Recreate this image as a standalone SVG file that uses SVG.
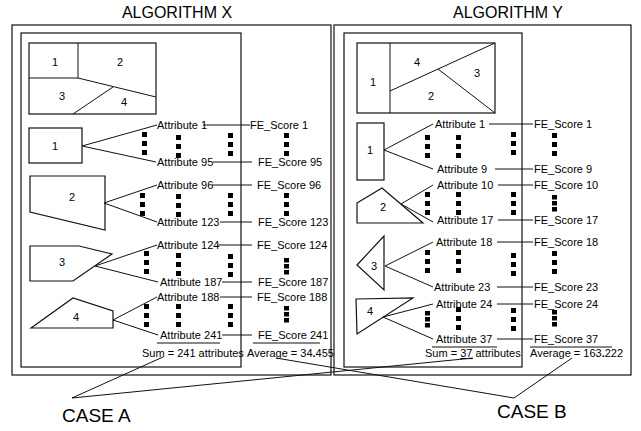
<svg xmlns="http://www.w3.org/2000/svg" xmlns:xlink="http://www.w3.org/1999/xlink" width="641" height="431" viewBox="0 0 641 431">
<style>
.f{fill:none;stroke:#111;stroke-width:1.2}
.s{fill:#fff;stroke:#111;stroke-width:1.2}
.l{fill:none;stroke:#111;stroke-width:1}
.t{font-family:"Liberation Sans",Arial,sans-serif;font-size:11px;fill:#000}
.n{font-family:"Liberation Sans",Arial,sans-serif;font-size:11px;fill:#000;text-anchor:middle}
.h{font-family:"Liberation Sans",Arial,sans-serif;font-size:16px;fill:#000;text-anchor:middle}
.c{font-family:"Liberation Sans",Arial,sans-serif;font-size:19px;fill:#000}
.d{fill:#000}
</style>
<defs>
<g id="v3"><rect class="d" x="0" y="0" width="5" height="5"/><rect class="d" x="0" y="9" width="5" height="5"/><rect class="d" x="0" y="18" width="5" height="5"/></g>
<g id="v3c"><rect class="d" x="0" y="0" width="5" height="4.5"/><rect class="d" x="0" y="6" width="5" height="4.5"/><rect class="d" x="0" y="12" width="5" height="4.5"/></g>
</defs>
<rect width="641" height="431" fill="#fff"/>

<g id="titles">
<text class="h" x="177" y="18">ALGORITHM X</text>
<text class="h" x="508" y="18">ALGORITHM Y</text>
</g>

<g id="frames">
<rect class="f" x="12" y="25" width="319" height="350"/>
<rect class="f" x="21" y="33" width="220" height="334"/>
<rect class="f" x="334" y="25" width="297" height="350"/>
<rect class="f" x="344" y="33" width="178" height="334"/>
</g>

<g id="partitionX">
<rect class="s" x="29" y="43" width="127" height="71"/>
<polyline class="l" points="29,78 78,78 78,43"/>
<line class="l" x1="78" y1="78" x2="156" y2="97"/>
<line class="l" x1="113" y1="87" x2="73" y2="114"/>
<text class="n" x="55" y="66">1</text>
<text class="n" x="120" y="66">2</text>
<text class="n" x="62" y="100">3</text>
<text class="n" x="124" y="106">4</text>
</g>

<g id="partitionY">
<rect class="s" x="357" y="43" width="138" height="70"/>
<line class="l" x1="390" y1="43" x2="390" y2="113"/>
<line class="l" x1="390" y1="91" x2="495" y2="43"/>
<line class="l" x1="438" y1="69" x2="495" y2="113"/>
<text class="n" x="373" y="86">1</text>
<text class="n" x="417" y="66">4</text>
<text class="n" x="477" y="77">3</text>
<text class="n" x="431" y="100">2</text>
</g>

<g id="x-node1"><rect class="s" x="29" y="128" width="53" height="35"/><text class="n" x="55" y="150">1</text></g>
<g id="x-node2"><polygon class="s" points="30,176 105,176 105,230 30,212"/><text class="n" x="72" y="201">2</text></g>
<g id="x-node3"><polygon class="s" points="30,246 79,246 112,254 73,281 30,281"/><text class="n" x="62" y="266">3</text></g>
<g id="x-node4"><polygon class="s" points="31,328 73,298 113,311 113,328"/><text class="n" x="76" y="321">4</text></g>

<g id="y-node1"><rect class="s" x="357" y="123" width="27" height="57"/><text class="n" x="370" y="154">1</text></g>
<g id="y-node2"><polygon class="s" points="357,203 382,188 423,223 357,223"/><text class="n" x="383" y="211">2</text></g>
<g id="y-node3"><polygon class="s" points="357,265 384,236 384,290"/><text class="n" x="374" y="270">3</text></g>
<g id="y-node4"><polygon class="s" points="356,299 413,298 357,334"/><text class="n" x="370" y="315">4</text></g>

<g id="x-labels">
<text class="t" x="157" y="129">Attribute 1</text><text class="t" x="250" y="129">FE_Score 1</text>
<text class="t" x="157" y="166">Attribute 95</text><text class="t" x="258" y="166">FE_Score 95</text>
<text class="t" x="157" y="189">Attribute 96</text><text class="t" x="257" y="189">FE_Score 96</text>
<text class="t" x="157" y="226">Attribute 123</text><text class="t" x="258" y="226">FE_Score 123</text>
<text class="t" x="157" y="249">Attribute 124</text><text class="t" x="257" y="249">FE_Score 124</text>
<text class="t" x="160" y="286">Attribute 187</text><text class="t" x="258" y="286">FE_Score 187</text>
<text class="t" x="157" y="301">Attribute 188</text><text class="t" x="257" y="301">FE_Score 188</text>
<text class="t" x="160" y="339">Attribute 241</text><text class="t" x="258" y="339">FE_Score 241</text>
<text class="t" x="142" y="357">Sum = 241 attributes</text>
<text class="t" x="247" y="357">Average = 34<tspan font-weight="bold">.</tspan>455</text>
</g>

<g id="y-labels">
<text class="t" x="435" y="128">Attribute 1</text><text class="t" x="534" y="128">FE_Score 1</text>
<text class="t" x="437" y="173">Attribute 9</text><text class="t" x="534" y="173">FE_Score 9</text>
<text class="t" x="437" y="189">Attribute 10</text><text class="t" x="534" y="189">FE_Score 10</text>
<text class="t" x="437" y="224">Attribute 17</text><text class="t" x="534" y="224">FE_Score 17</text>
<text class="t" x="436" y="246">Attribute 18</text><text class="t" x="534" y="246">FE_Score 18</text>
<text class="t" x="434" y="291">Attribute 23</text><text class="t" x="534" y="291">FE_Score 23</text>
<text class="t" x="436" y="308">Attribute 24</text><text class="t" x="534" y="308">FE_Score 24</text>
<text class="t" x="436" y="343">Attribute 37</text><text class="t" x="534" y="343">FE_Score 37</text>
<text class="t" x="425" y="357">Sum = <tspan text-decoration="underline">37</tspan> attributes</text>
<text class="t" x="530" y="357">Average = 163<tspan font-weight="bold">.</tspan>222</text>
</g>

<g id="dots">
<use xlink:href="#v3" x="142" y="132"/><use xlink:href="#v3" x="176" y="135"/><use xlink:href="#v3" x="228" y="133"/><use xlink:href="#v3" x="284" y="133"/>
<use xlink:href="#v3" x="140" y="193"/><use xlink:href="#v3" x="176" y="194"/><use xlink:href="#v3" x="228" y="193"/><use xlink:href="#v3" x="284" y="193"/>
<use xlink:href="#v3" x="144" y="251"/><use xlink:href="#v3" x="176" y="253"/><use xlink:href="#v3" x="228" y="254"/><use xlink:href="#v3c" x="284" y="258"/>
<use xlink:href="#v3" x="144" y="304"/><use xlink:href="#v3" x="176" y="304"/><use xlink:href="#v3" x="228" y="304"/><use xlink:href="#v3c" x="284" y="306"/>
<use xlink:href="#v3" x="425" y="135"/><use xlink:href="#v3" x="456" y="135"/><use xlink:href="#v3" x="511" y="132"/><use xlink:href="#v3" x="552" y="133"/>
<use xlink:href="#v3" x="425" y="192"/><use xlink:href="#v3" x="456" y="192"/><use xlink:href="#v3" x="511" y="192"/><use xlink:href="#v3c" x="552" y="195"/>
<use xlink:href="#v3" x="425" y="250"/><use xlink:href="#v3" x="456" y="250"/><use xlink:href="#v3" x="511" y="253"/><use xlink:href="#v3" x="552" y="251"/>
<use xlink:href="#v3c" x="425" y="311"/><use xlink:href="#v3" x="456" y="307"/><use xlink:href="#v3" x="511" y="308"/><use xlink:href="#v3c" x="552" y="310"/>
</g>

<g id="connectors">
<line class="l" x1="82" y1="146" x2="157" y2="125"/><line class="l" x1="82" y1="146" x2="156" y2="162"/>
<line class="l" x1="104" y1="203" x2="157" y2="185"/><line class="l" x1="104" y1="203" x2="157" y2="222"/>
<line class="l" x1="95" y1="266" x2="157" y2="245"/><line class="l" x1="95" y1="266" x2="158" y2="282"/>
<line class="l" x1="113" y1="320" x2="157" y2="297"/><line class="l" x1="113" y1="320" x2="158" y2="335"/>
<line class="l" x1="203" y1="125" x2="250" y2="125"/>
<line class="l" x1="213" y1="162" x2="252" y2="162"/>
<line class="l" x1="212" y1="185" x2="252" y2="185"/>
<line class="l" x1="220" y1="222" x2="252" y2="222"/>
<line class="l" x1="218" y1="245" x2="252" y2="245"/>
<line class="l" x1="222" y1="282" x2="252" y2="282"/>
<line class="l" x1="220" y1="297" x2="252" y2="297"/>
<line class="l" x1="222" y1="335" x2="252" y2="335"/>
<line class="l" x1="157" y1="343" x2="220" y2="343"/>
<line class="l" x1="253" y1="343" x2="320" y2="343"/>

<line class="l" x1="384" y1="150" x2="433" y2="124"/><line class="l" x1="384" y1="150" x2="433" y2="169"/>
<line class="l" x1="401" y1="204" x2="433" y2="185"/><line class="l" x1="401" y1="204" x2="433" y2="222"/>
<line class="l" x1="385" y1="266" x2="433" y2="242"/><line class="l" x1="385" y1="266" x2="433" y2="287"/>
<line class="l" x1="383" y1="317" x2="433" y2="304"/><line class="l" x1="383" y1="317" x2="433" y2="339"/>
<line class="l" x1="489" y1="124" x2="533" y2="124"/>
<line class="l" x1="495" y1="169" x2="533" y2="169"/>
<line class="l" x1="498" y1="185" x2="533" y2="185"/>
<line class="l" x1="498" y1="220" x2="533" y2="220"/>
<line class="l" x1="497" y1="242" x2="533" y2="242"/>
<line class="l" x1="497" y1="287" x2="533" y2="287"/>
<line class="l" x1="497" y1="304" x2="533" y2="304"/>
<line class="l" x1="497" y1="339" x2="533" y2="339"/>
<line class="l" x1="432" y1="347" x2="497" y2="347"/>
<line class="l" x1="530" y1="347" x2="612" y2="347"/>

<line class="l" x1="72" y1="398" x2="163" y2="357"/>
<line class="l" x1="72" y1="398" x2="473" y2="358"/>
<line class="l" x1="276" y1="358" x2="514" y2="398"/>
<line class="l" x1="514" y1="398" x2="572" y2="358"/>
</g>

<g id="cases">
<text class="c" x="62" y="422">CASE A</text>
<text class="c" x="497" y="418">CASE B</text>
</g>
</svg>
